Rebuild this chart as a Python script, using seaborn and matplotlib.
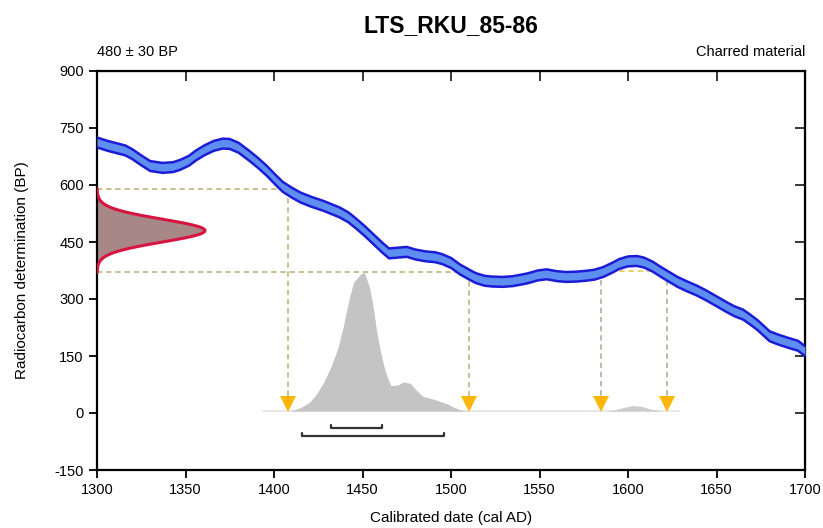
import numpy as np
import pandas as pd
import seaborn as sns
import matplotlib.pyplot as plt

# calibration curve (centre line, BP)
cal_years = [1300, 1306, 1311, 1316, 1320, 1325, 1330, 1337, 1343, 1347, 1352, 1356,
             1361, 1366, 1371, 1375, 1380, 1386, 1391, 1396, 1401, 1405, 1410, 1415,
             1421, 1428, 1437, 1442, 1446, 1451, 1456, 1461, 1465, 1470, 1475, 1480,
             1486, 1491, 1495, 1500, 1505, 1510, 1514, 1519, 1523, 1529, 1535, 1543,
             1549, 1554, 1560, 1565, 1571, 1576, 1581, 1586, 1591, 1595, 1600, 1605,
             1609, 1614, 1619, 1624, 1628, 1633, 1639, 1644, 1650, 1656, 1660, 1665,
             1669, 1673, 1677, 1680, 1685, 1691, 1696, 1700]
curve_bp = [712, 703, 697, 691, 681, 665, 650, 645, 647, 653, 664, 678,
            692, 703, 709, 708, 698, 677, 658, 637, 613, 595, 580, 567,
            556, 545, 528, 515, 500, 480, 458, 436, 420, 422, 424, 417,
            412, 410, 405, 395, 378, 365, 355, 348, 346, 345, 347, 354,
            362, 365, 360, 358, 359, 361, 364, 371, 382, 392, 399, 400,
            396, 385, 370, 356, 345, 334, 322, 310, 294, 278, 268, 259,
            246, 232, 215, 202, 193, 184, 177, 163]
curve_err = 13

# measured date
c14_mean = 480
c14_sd = 30
c14_lo, c14_hi = 370, 590

# calibrated probability (drawn height in BP units)
dist_years = [1409, 1415, 1420, 1424, 1428, 1432, 1436, 1439, 1441, 1443, 1445, 1447,
              1449, 1451, 1454, 1456, 1458, 1460, 1462, 1464, 1466, 1470, 1473, 1477,
              1480, 1484, 1489, 1494, 1498, 1501, 1505, 1509]
dist_bp = [5, 14, 28, 50, 80, 120, 170, 225, 270, 310, 345, 355,
           366, 370, 330, 280, 215, 165, 125, 95, 72, 74, 82, 78,
           62, 44, 38, 30, 24, 16, 9, 5]
dist2_years = [1588, 1593, 1598, 1603, 1608, 1613, 1619]
dist2_bp = [5, 9, 15, 20, 17, 10, 5]
baseline = 5

arrow_years = [1408, 1510, 1585, 1622]
range_1sig = [1432, 1461]
range_2sig = [1416, 1496]

sns.set_style("ticks")
plt.rcParams['font.family'] = ['Liberation Sans', 'DejaVu Sans']
plt.rcParams['axes.unicode_minus'] = False
plt.rcParams['text.color'] = 'black'
plt.rcParams['axes.labelcolor'] = 'black'

fig = plt.figure(figsize=(8.23, 5.28), dpi=100)
ax = fig.add_axes([97/823, 58/528, 708/823, 399/528])

curve = pd.DataFrame({"year": cal_years, "bp": curve_bp})
curve["hi"] = curve["bp"] + curve_err
curve["lo"] = curve["bp"] - curve_err

# guide lines
dash = (0, (3.5, 2.5))
gcol = "#bcae72"
ax.plot([1300, arrow_years[0]], [c14_hi, c14_hi], color=gcol, lw=1.1, ls=dash, zorder=1)
ax.plot([1300, arrow_years[1]], [c14_lo, c14_lo], color=gcol, lw=1.1, ls=dash, zorder=1)
ax.plot([arrow_years[2], arrow_years[3]], [c14_lo + 5, c14_lo + 5], color="#e8c040", lw=1.1, ls=dash, zorder=1)
ax.plot([arrow_years[0]] * 2, [c14_hi, 30], color=gcol, lw=1.1, ls=dash, zorder=1)
ax.plot([arrow_years[1]] * 2, [c14_lo, 30], color=gcol, lw=1.1, ls=dash, zorder=1)
ax.plot([arrow_years[2]] * 2, [c14_lo + 5, 30], color="#aaa890", lw=1.1, ls=dash, zorder=1)
ax.plot([arrow_years[3]] * 2, [c14_lo + 5, 30], color="#aaa890", lw=1.1, ls=dash, zorder=1)

# calibration curve band
ax.fill_between(curve["year"], curve["lo"], curve["hi"], color="#5e8ff0", lw=0, zorder=3)
sns.lineplot(data=curve, x="year", y="hi", color="#1c1cd6", lw=1.8, ax=ax, zorder=4,
             solid_joinstyle="round")
sns.lineplot(data=curve, x="year", y="lo", color="#1c1cd6", lw=1.8, ax=ax, zorder=4,
             solid_joinstyle="round")

# measured date distribution on the y axis
ys = np.linspace(c14_lo, c14_hi, 200)
xs = 1300 + 61 * np.exp(-(ys - c14_mean) ** 2 / (2 * c14_sd ** 2))
ax.fill_betweenx(ys, 1300, xs, color="#a88787", lw=0, zorder=2)
ax.plot(xs, ys, color="#d81440", lw=2.2, zorder=3)

# calibrated distribution
ax.plot([1394, 1629], [baseline, baseline], color="#e4e4e4", lw=1.2, zorder=1)
ax.fill_between(dist_years, baseline, dist_bp, color="#c4c4c4", lw=0, zorder=2)
ax.fill_between(dist2_years, baseline, dist2_bp, color="#cccccc", lw=0, zorder=2)

# arrows
ax.plot(arrow_years, [24] * 4, ls="none", marker="v", ms=11, color="#ffb60a",
        markeredgewidth=0, zorder=5)

# range bars
for (a, b), y in [(range_1sig, -40), (range_2sig, -61)]:
    ax.plot([a, a, b, b], [y + 8, y, y, y + 8], color="#333333", lw=1.6, zorder=5)

ax.set_xlim(1300, 1700)
ax.set_ylim(-150, 900)
ax.set_xticks(range(1300, 1701, 50))
ax.set_yticks(range(-150, 901, 150))
ax.tick_params(axis="both", direction="out", length=6, width=1.3, labelsize=10.5,
               colors="black")
ax.set_xlabel("Calibrated date (cal AD)", fontsize=11, labelpad=10)
ax.set_ylabel("Radiocarbon determination (BP)", fontsize=11, labelpad=18)
for s in ax.spines.values():
    s.set_visible(True)
    s.set_linewidth(1.6)
    s.set_color("black")

top = ax.secondary_xaxis("top")
top.set_xticks(range(1300, 1701, 50))
top.tick_params(direction="in", length=7, width=1.3, labeltop=False)
right = ax.secondary_yaxis("right")
right.set_yticks(range(-150, 901, 150))
right.tick_params(direction="in", length=7, width=1.3, labelright=False)

fig.text(0.548, 0.952, "LTS_RKU_85-86", ha="center", va="center", fontsize=16.5,
         fontweight="bold")
ax.text(0, 1.03, "480 ± 30 BP", transform=ax.transAxes, ha="left", va="bottom",
        fontsize=10.5)
ax.text(1, 1.03, "Charred material", transform=ax.transAxes, ha="right", va="bottom",
        fontsize=10.5)

fig.savefig("out.png", dpi=100)
